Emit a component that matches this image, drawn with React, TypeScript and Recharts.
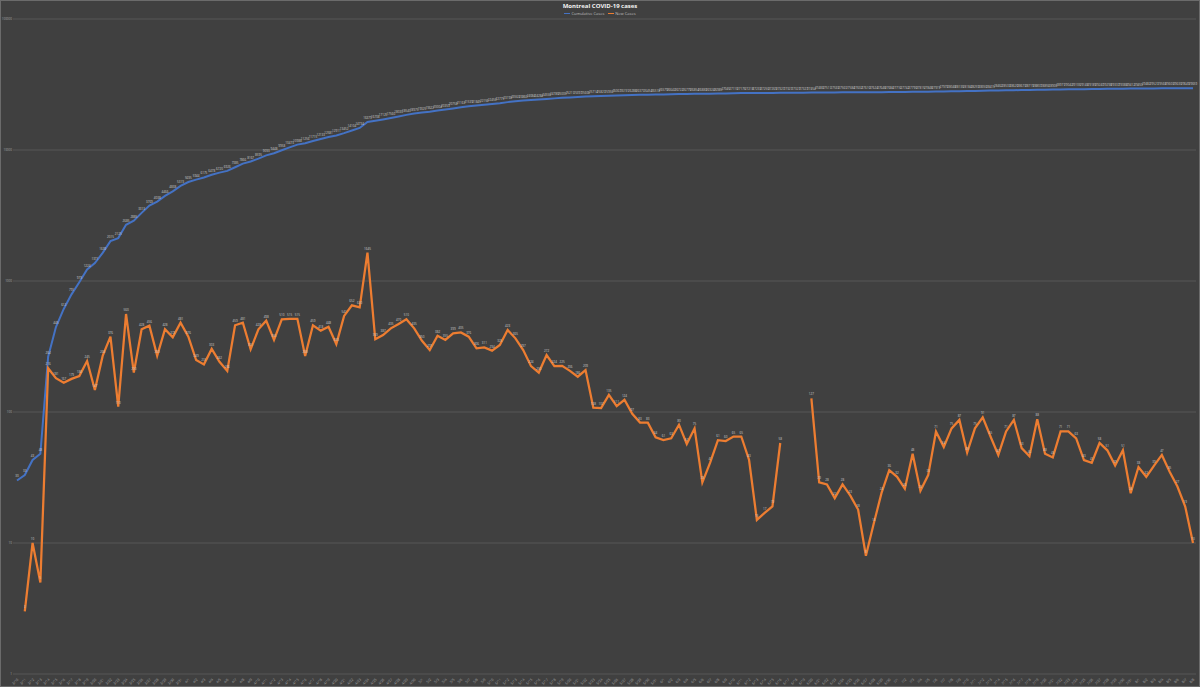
import { LineChart, Line, XAxis, YAxis, CartesianGrid, LabelList } from 'recharts';

// one label per day, 10 March to 8 August 2020
const dates = (
  '3/10 3/11 3/12 3/13 3/14 3/15 3/16 3/17 3/18 3/19 3/20 3/21 3/22 3/23 3/24 3/25 3/26 3/27 3/28 3/29 3/30 3/31 ' +
  '4/1 4/2 4/3 4/4 4/5 4/6 4/7 4/8 4/9 4/10 4/11 4/12 4/13 4/14 4/15 4/16 4/17 4/18 4/19 4/20 4/21 4/22 4/23 4/24 4/25 4/26 4/27 4/28 4/29 4/30 ' +
  '5/1 5/2 5/3 5/4 5/5 5/6 5/7 5/8 5/9 5/10 5/11 5/12 5/13 5/14 5/15 5/16 5/17 5/18 5/19 5/20 5/21 5/22 5/23 5/24 5/25 5/26 5/27 5/28 5/29 5/30 5/31 ' +
  '6/1 6/2 6/3 6/4 6/5 6/6 6/7 6/8 6/9 6/10 6/11 6/12 6/13 6/14 6/15 6/16 6/17 6/18 6/19 6/20 6/21 6/22 6/23 6/24 6/25 6/26 6/27 6/28 6/29 6/30 ' +
  '7/1 7/2 7/3 7/4 7/5 7/6 7/7 7/8 7/9 7/10 7/11 7/12 7/13 7/14 7/15 7/16 7/17 7/18 7/19 7/20 7/21 7/22 7/23 7/24 7/25 7/26 7/27 7/28 7/29 7/30 7/31 ' +
  '8/1 8/2 8/3 8/4 8/5 8/6 8/7 8/8'
).split(' ');

const newCases: (number | null)[] = [
  null, 3, 10, 5, 216, 181, 167, 179, 188, 245,
  147, 268, 376, 110, 560, 200, 428, 456, 269, 428,
  372, 481, 376, 249, 231, 303, 242, 206, 459, 481,
  301, 428, 498, 355, 510, 515, 515, 268, 459, 418,
  448, 330, 541, 652, 630, 1645, 359, 387, 435, 470,
  510, 435, 350, 297, 382, 355, 399, 405, 376, 306,
  311, 294, 325, 423, 365, 297, 224, 200, 272, 224,
  225, 206, 186, 209, 108, 107, 135, 111, 124, 97,
  83, 83, 64, 61, 63, 80, 57, 75, 29, 41,
  61, 60, 65, 65, 43, 15, 17, 19, 58, null,
  null, null, 127, 29, 28, 22, 28, 23, 18, 8,
  14, 24, 36, 32, 26, 48, 25, 33, 71, 54,
  75, 87, 49, 75, 91, 65, 47, 71, 87, 53,
  46, 88, 48, 45, 71, 71, 63, 43, 41, 58,
  51, 39, 51, 24, 38, 32, 39, 47, 35, 27,
  19, 10,
];

const cumulativeCases = [
  30, 33, 43, 48, 264, 445, 612, 791, 979, 1224,
  1371, 1639, 2015, 2125, 2685, 2885, 3313, 3769, 4038, 4466,
  4838, 5319, 5695, 5944, 6175, 6478, 6720, 6926, 7385, 7866,
  8167, 8595, 9093, 9448, 9958, 10473, 10988, 11256, 11715, 12133,
  12581, 12911, 13452, 14104, 14734, 16379, 16738, 17125, 17560, 18030,
  18540, 18975, 19325, 19622, 20004, 20359, 20758, 21163, 21539, 21845,
  22156, 22450, 22775, 23198, 23563, 23860, 24084, 24284, 24556, 24780,
  25005, 25211, 25397, 25606, 25714, 25821, 25956, 26067, 26191, 26288,
  26371, 26454, 26518, 26579, 26642, 26722, 26779, 26854, 26883, 26924,
  26985, 27045, 27110, 27175, 27218, 27233, 27250, 27269, 27327, 27327,
  27327, 27327, 27454, 27483, 27511, 27533, 27561, 27584, 27602, 27610,
  27624, 27648, 27684, 27716, 27742, 27790, 27815, 27848, 27919, 27973,
  28048, 28135, 28184, 28259, 28350, 28415, 28462, 28533, 28620, 28673,
  28719, 28807, 28855, 28900, 28971, 29042, 29105, 29148, 29189, 29247,
  29298, 29337, 29388, 29412, 29450, 29482, 29521, 29568, 29603, 29630,
  29649, 29659,
];

const yTicks = [1, 10, 100, 1000, 10000, 100000];

const data = dates.map((date, i) => ({
  date,
  cumulative: cumulativeCases[i],
  daily: newCases[i],
}));

const BLUE = '#4472C4';
const ORANGE = '#ED7D31';
const FONT = "'Open Sans', 'Liberation Sans', sans-serif";

export default function App() {
  return (
    <div
      style={{
        position: 'absolute',
        left: 0,
        top: 0,
        width: 1200,
        height: 687,
        background: '#404040',
        border: '1px solid #6b6b6b',
        boxSizing: 'border-box',
        fontFamily: FONT,
      }}
    >
      <div
        style={{
          position: 'absolute',
          top: 1,
          width: '100%',
          textAlign: 'center',
          color: '#f2f2f2',
          fontSize: 6,
          fontWeight: 'bold',
        }}
      >
        Montreal COVID-19 cases
      </div>
      <div
        style={{
          position: 'absolute',
          top: 10,
          width: '100%',
          display: 'flex',
          justifyContent: 'center',
          gap: 4,
          color: '#bfbfbf',
          fontSize: 4,
        }}
      >
        <span style={{ display: 'flex', alignItems: 'center', gap: 1 }}>
          <span style={{ width: 6, height: 1, background: BLUE }} />
          Cumulative Cases
        </span>
        <span style={{ display: 'flex', alignItems: 'center', gap: 1 }}>
          <span style={{ width: 6, height: 1, background: ORANGE }} />
          New Cases
        </span>
      </div>
      <LineChart
        width={1198}
        height={685}
        data={data}
        margin={{ top: 18, right: 3, bottom: 0, left: 0 }}
        style={{ position: 'absolute', left: 0, top: 0 }}
      >
        <CartesianGrid vertical={false} stroke="#575757" />
        <XAxis
          dataKey="date"
          interval={0}
          height={12}
          padding={{ left: 4, right: 3 }}
          axisLine={false}
          tickLine={false}
          tickSize={2}
          tick={{ fontSize: 3.5, fill: '#a6a6a6', angle: -45, textAnchor: 'end' }}
        />
        <YAxis
          type="number"
          scale="log"
          domain={[1, 100000]}
          ticks={yTicks}
          allowDataOverflow
          width={12}
          axisLine={false}
          tickLine={false}
          tickSize={0}
          tickMargin={1}
          tick={{ fontSize: 3, fill: '#a6a6a6' }}
        />
        <Line
          type="linear"
          dataKey="cumulative"
          stroke={BLUE}
          strokeWidth={2}
          dot={false}
          isAnimationActive={false}
        >
          <LabelList dataKey="cumulative" position="top" offset={3} style={{ fontSize: 3, fill: '#cfcfcf' }} />
        </Line>
        <Line
          type="linear"
          dataKey="daily"
          stroke={ORANGE}
          strokeWidth={2.25}
          dot={false}
          isAnimationActive={false}
        >
          <LabelList dataKey="daily" position="top" offset={3} style={{ fontSize: 3, fill: '#cfcfcf' }} />
        </Line>
      </LineChart>
    </div>
  );
}
